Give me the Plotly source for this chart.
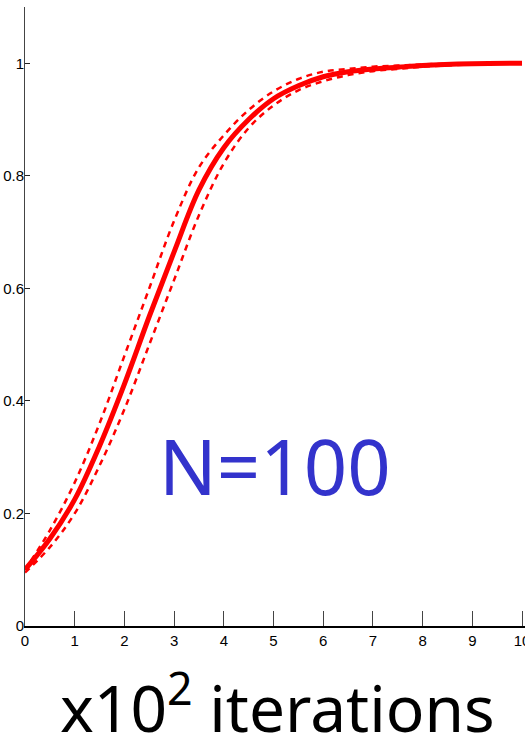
import plotly.graph_objects as go

x_vals = [0, 0.5, 1, 1.5, 2, 2.5, 3, 3.5, 4, 4.5, 5, 5.5, 6, 6.5, 7, 7.5, 8, 9, 10]
mean_curve = [0.10, 0.155, 0.225, 0.32, 0.43, 0.55, 0.665, 0.775, 0.85, 0.90, 0.937, 0.96, 0.976, 0.985, 0.99, 0.993, 0.996, 0.999, 1.0]
upper_curve = [0.10, 0.17, 0.255, 0.36, 0.48, 0.60, 0.72, 0.815, 0.872, 0.917, 0.95, 0.972, 0.985, 0.99, 0.994, 0.996, 0.998, 1.0, 1.0]
lower_curve = [0.095, 0.14, 0.20, 0.285, 0.385, 0.50, 0.615, 0.73, 0.822, 0.885, 0.925, 0.952, 0.968, 0.979, 0.986, 0.99, 0.994, 0.998, 1.0]

x_ticks = list(range(0, 11))
y_ticks = [0, 0.2, 0.4, 0.6, 0.8, 1]
y_tick_text = ["0", "0.2", "0.4", "0.6", "0.8", "1"]

fig = go.Figure()
for curve in (upper_curve, lower_curve):
    fig.add_trace(go.Scatter(x=x_vals, y=curve, mode="lines", line_shape="spline",
                             line=dict(color="#ff0000", width=2.5, dash="6px,5px"),
                             hoverinfo="skip", showlegend=False))
fig.add_trace(go.Scatter(x=x_vals, y=mean_curve, mode="lines", line_shape="spline",
                         line=dict(color="#ff0000", width=5), showlegend=False))

tick_font = dict(family="Liberation Sans Narrow, Arial Narrow, Liberation Sans, sans-serif", size=15, color="black")

fig.update_xaxes(range=[0, 10.06], tickvals=x_ticks, ticks="inside", ticklen=15, tickwidth=1,
                 tickcolor="#444", showline=True, linecolor="black", linewidth=2,
                 showgrid=False, zeroline=False, tickfont=tick_font, automargin=False,
                 ticklabeloverflow="allow")
fig.update_yaxes(range=[0, 1.1], tickvals=y_ticks, ticktext=y_tick_text, ticks="inside", ticklen=5,
                 tickwidth=1, tickcolor="#222", showline=True, linecolor="#444", linewidth=1,
                 showgrid=False, zeroline=False, tickfont=tick_font, automargin=False,
                 ticklabeloverflow="allow", ticklabelstandoff=-3)

fig.add_annotation(text="N=100", xref="paper", yref="paper", x=0.5, y=0.26,
                   xanchor="center", yanchor="middle",
                   showarrow=False, font=dict(family="Comic Sans MS, Noto Sans, sans-serif", size=76, color="#3333cc"))
fig.add_annotation(text="x10<sup>2</sup> iterations", xref="paper", yref="paper", x=0.505, y=-0.126,
                   xanchor="center", yanchor="middle",
                   showarrow=False, font=dict(family="Comic Sans MS, Noto Sans, sans-serif", size=64, color="black"))

fig.update_layout(width=525, height=745, margin=dict(l=25, r=0, t=7, b=119),
                  plot_bgcolor="white", paper_bgcolor="white")

fig.write_html("out.html", config={"displayModeBar": False},
               post_script="document.body.style.margin='0';")
